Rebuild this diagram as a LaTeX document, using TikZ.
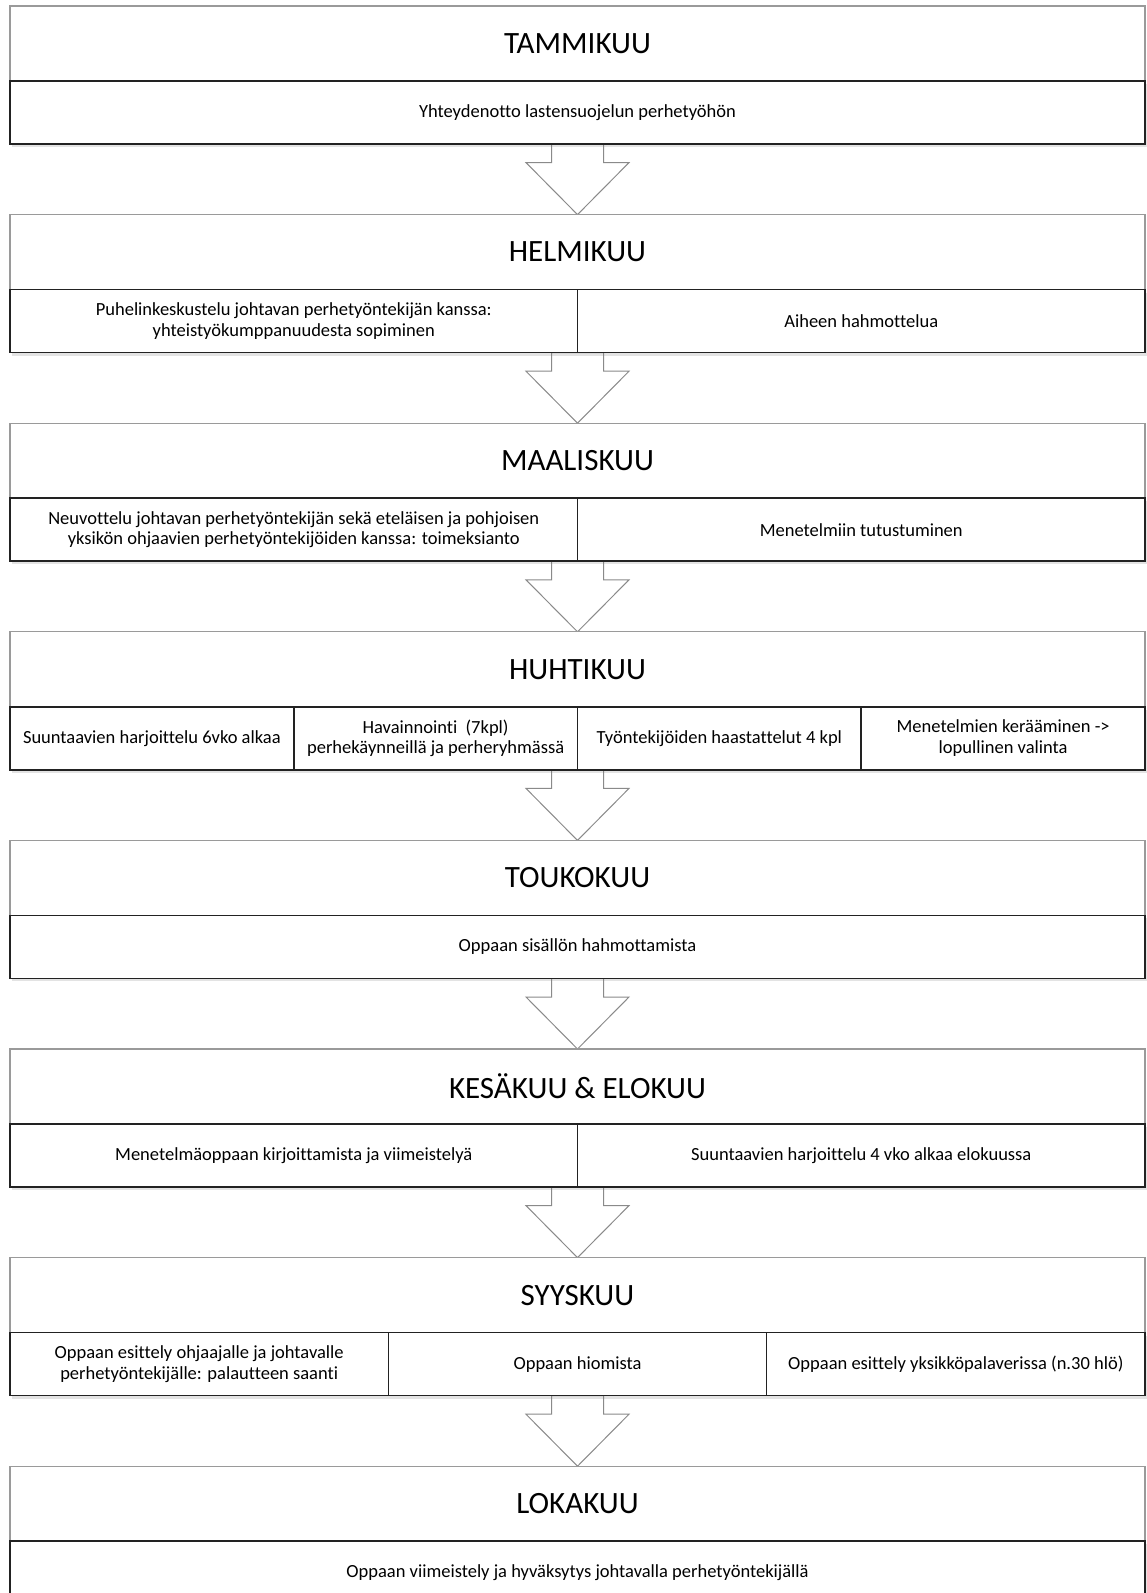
\documentclass[tikz,border=0pt]{standalone}
\usepackage{fontspec}
\setmainfont[Ligatures={NoCommon}]{Carlito}
\usetikzlibrary{shadows,calc}
\definecolor{hdrgray}{HTML}{9A9A9A}
\definecolor{arrgray}{HTML}{8A8A8A}
\definecolor{cellline}{HTML}{222222}
\pgfdeclarelayer{bg}
\pgfsetlayers{bg,main}
\tikzset{
  hdr/.style={draw=hdrgray, line width=1.2pt, fill=white, minimum width=1135pt,
    minimum height=75pt, outer sep=0pt, inner sep=0pt, anchor=north west,
    font=\fontsize{31}{37}\selectfont,
    drop shadow={shadow xshift=-1pt, shadow yshift=-2pt, opacity=0.15}},
  cell/.style={draw=cellline, line width=1.6pt, fill=white, minimum height=63pt,
    outer sep=0pt, inner sep=2pt, anchor=north west, align=center,
    font=\fontsize{18.5}{20.5}\selectfont,
    drop shadow={shadow xshift=1.5pt, shadow yshift=-3pt, opacity=0.22}},
  full/.style={cell, minimum width=1135pt},
  half/.style={cell, minimum width=567.5pt},
  third/.style={cell, minimum width=378.333pt},
  quarter/.style={cell, minimum width=283.75pt},
  blockarr/.style={draw=arrgray, line width=1pt, fill=white, line join=miter}
}
\newcommand\blockarrow[2]{%
  \path[blockarr] let \p1=(#1), \p2=(#2) in
    (\x2-26pt,\y1) -- (\x2-26pt,\y2+52pt) -- (\x2-51.5pt,\y2+52pt) -- (\x2,\y2)
    -- (\x2+51.5pt,\y2+52pt) -- (\x2+26pt,\y2+52pt) -- (\x2+26pt,\y1) -- cycle;}
\begin{document}
\begin{tikzpicture}[x=1pt,y=-1pt]
\useasboundingbox (0,0) rectangle (1147,1593);
\begin{scope}
\clip (0,0) rectangle (1147,1593);
% 1
\node[hdr] (h1) at (10,6) {TAMMIKUU};
\node[full] (c1) at (h1.south west) {Yhteydenotto lastensuojelun perhetyöhön};
% 2
\node[hdr] (h2) at (10,214.6) {HELMIKUU};
\node[half] (c2a) at (h2.south west) {Puhelinkeskustelu johtavan perhetyöntekijän kanssa:\\ yhteistyökumppanuudesta sopiminen};
\node[half] (c2b) at (c2a.north east) {Aiheen hahmottelua};
% 3
\node[hdr] (h3) at (10,423.2) {MAALISKUU};
\node[half] (c3a) at (h3.south west) {Neuvottelu johtavan perhetyöntekijän sekä eteläisen ja pohjoisen\\ yksikön ohjaavien perhetyöntekijöiden kanssa: toimeksianto};
\node[half] (c3b) at (c3a.north east) {Menetelmiin tutustuminen};
% 4
\node[hdr] (h4) at (10,631.8) {HUHTIKUU};
\node[quarter] (c4a) at (h4.south west) {Suuntaavien harjoittelu 6vko alkaa};
\node[quarter] (c4b) at (c4a.north east) {Havainnointi \ (7kpl)\\ perhekäynneillä ja perheryhmässä};
\node[quarter] (c4c) at (c4b.north east) {Työntekijöiden haastattelut 4 kpl};
\node[quarter] (c4d) at (c4c.north east) {Menetelmien kerääminen -{}>\\ lopullinen valinta};
% 5
\node[hdr] (h5) at (10,840.4) {TOUKOKUU};
\node[full] (c5) at (h5.south west) {Oppaan sisällön hahmottamista};
% 6
\node[hdr] (h6) at (10,1049) {KESÄKUU \& ELOKUU};
\node[half] (c6a) at (h6.south west) {Menetelmäoppaan kirjoittamista ja viimeistelyä};
\node[half] (c6b) at (c6a.north east) {Suuntaavien harjoittelu 4 vko alkaa elokuussa};
% 7
\node[hdr] (h7) at (10,1257.6) {SYYSKUU};
\node[third] (c7a) at (h7.south west) {Oppaan esittely ohjaajalle ja johtavalle\\ perhetyöntekijälle: palautteen saanti};
\node[third] (c7b) at (c7a.north east) {Oppaan hiomista};
\node[third] (c7c) at (c7b.north east) {Oppaan esittely yksikköpalaverissa (n.30 hlö)};
% 8
\node[hdr] (h8) at (10,1466.2) {LOKAKUU};
\node[full] (c8) at (h8.south west) {Oppaan viimeistely ja hyväksytys johtavalla perhetyöntekijällä};
\end{scope}
\begin{pgfonlayer}{bg}
\fill[white] (0,0) rectangle (1147,1593);
\blockarrow{c1.south}{h2.north}
\blockarrow{c2a.south east}{h3.north}
\blockarrow{c3a.south east}{h4.north}
\blockarrow{c4b.south east}{h5.north}
\blockarrow{c5.south}{h6.north}
\blockarrow{c6a.south east}{h7.north}
\blockarrow{c7b.south}{h8.north}
\end{pgfonlayer}
\end{tikzpicture}
\end{document}
